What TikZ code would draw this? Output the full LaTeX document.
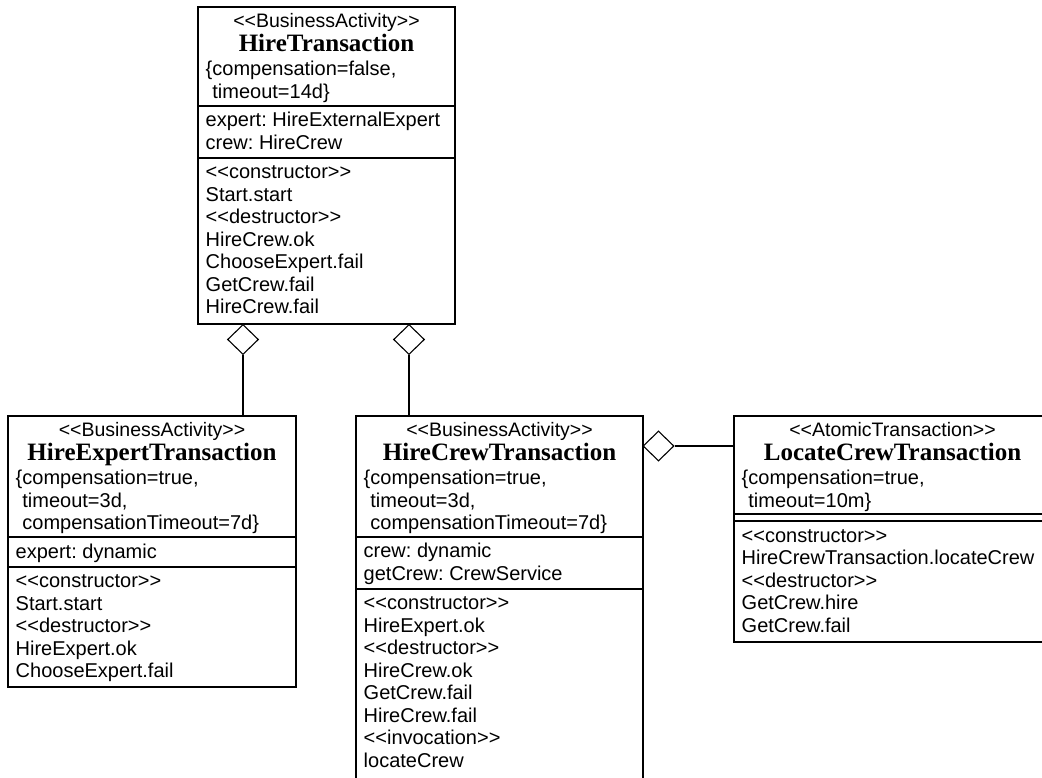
\documentclass[tikz,border=0pt]{standalone}
\usepackage{fontspec}
\setmainfont{Liberation Sans}
\newfontfamily\ttlfont{Liberation Serif}
\usetikzlibrary{shapes.geometric}
\newcommand\stt[1]{<\kern0pt<#1>\kern0pt>}
\frenchspacing
\begin{document}
\begin{tikzpicture}[x=1pt,y=-1pt,
  box/.style={draw, line width=1.1pt, inner sep=0, outer sep=0, anchor=north west},
  sepline/.style={line width=1.1pt},
  txt/.style={inner sep=0, anchor=base west, font=\fontsize{20}{24}\selectfont},
  stereo/.style={inner sep=0, anchor=base, font=\fontsize{19.5}{24}\selectfont},
  ttl/.style={inner sep=0, anchor=base, font=\ttlfont\bfseries\fontsize{25}{30}\selectfont},
  agg/.style={diamond, draw, line width=1.1pt, fill=white, inner sep=0, minimum width=31pt, minimum height=30pt},
  conn/.style={line width=1.1pt}]
\useasboundingbox (0,0) rectangle (1042,777);
\fill[white] (0,0) rectangle (1042,777);
\begin{scope}
\clip (0,0) rectangle (1042,777);
% ---------- HireTransaction ----------
\node[box, minimum width=257pt, minimum height=317pt] (ht) at (198,7) {};
\draw[sepline] (198,106) -- (455,106);
\draw[sepline] (198,158) -- (455,158);
\node[stereo] (hts) at (326.5,27.5) {\stt{BusinessActivity}};
\node[ttl] (htt) at (326.5,51.5) {HireTransaction};
\node[txt] (hth1) at (205.5,75.5) {\{compensation=false,};
\node[txt] (hth2) at (205.5,98) {\phantom{\{}timeout=14d\}};
\node[txt] (hta1) at (205.5,126.5) {expert: HireExternalExpert};
\node[txt] (hta2) at (205.5,149) {crew: HireCrew};
\foreach \t [count=\i] in {{\stt{constructor}},{Start.start},{\stt{destructor}},{HireCrew.ok},{ChooseExpert.fail},{GetCrew.fail},{HireCrew.fail}}
  \node[txt] (htm\i) at (205.5,{178.5+22.5*(\i-1)}) {\t};
% ---------- HireExpertTransaction ----------
\node[box, minimum width=288pt, minimum height=271pt] (het) at (8,416) {};
\draw[sepline] (8,537) -- (296,537);
\draw[sepline] (8,567) -- (296,567);
\node[stereo] (hets) at (152,436.5) {\stt{BusinessActivity}};
\node[ttl] (hett) at (152,460.5) {HireExpertTransaction};
\node[txt] (heth1) at (15.5,484.5) {\{compensation=true,};
\node[txt] (heth2) at (15.5,507) {\phantom{\{}timeout=3d,};
\node[txt] (heth3) at (15.5,529.5) {\phantom{\{}compensationTimeout=7d\}};
\node[txt] (heta1) at (15.5,558) {expert: dynamic};
\foreach \t [count=\i] in {{\stt{constructor}},{Start.start},{\stt{destructor}},{HireExpert.ok},{ChooseExpert.fail}}
  \node[txt] (hetm\i) at (15.5,{587.5+22.5*(\i-1)}) {\t};
% ---------- HireCrewTransaction ----------
\node[box, minimum width=287pt, minimum height=400pt] (hct) at (356,416) {};
\draw[sepline] (356,537) -- (643,537);
\draw[sepline] (356,589) -- (643,589);
\node[stereo] (hcts) at (499.5,436.5) {\stt{BusinessActivity}};
\node[ttl] (hctt) at (499.5,460.5) {HireCrewTransaction};
\node[txt] (hcth1) at (363.5,484.5) {\{compensation=true,};
\node[txt] (hcth2) at (363.5,507) {\phantom{\{}timeout=3d,};
\node[txt] (hcth3) at (363.5,529.5) {\phantom{\{}compensationTimeout=7d\}};
\node[txt] (hcta1) at (363.5,557.5) {crew: dynamic};
\node[txt] (hcta2) at (363.5,580) {getCrew: CrewService};
\foreach \t [count=\i] in {{\stt{constructor}},{HireExpert.ok},{\stt{destructor}},{HireCrew.ok},{GetCrew.fail},{HireCrew.fail},{\stt{invocation}},{locateCrew}}
  \node[txt] (hctm\i) at (363.5,{609.5+22.5*(\i-1)}) {\t};
% ---------- LocateCrewTransaction ----------
\node[box, minimum width=317pt, minimum height=226pt] (lct) at (734,416) {};
\draw[sepline] (734,514) -- (1051,514);
\draw[sepline] (734,521) -- (1051,521);
\node[stereo] (lcts) at (892.5,436.5) {\stt{AtomicTransaction}};
\node[ttl] (lctt) at (892.5,460.5) {LocateCrewTransaction};
\node[txt] (lcth1) at (741.5,484.5) {\{compensation=true,};
\node[txt] (lcth2) at (741.5,507) {\phantom{\{}timeout=10m\}};
\foreach \t [count=\i] in {{\stt{constructor}},{HireCrewTransaction.locateCrew},{\stt{destructor}},{GetCrew.hire},{GetCrew.fail}}
  \node[txt] (lctm\i) at (741.5,{542+22.5*(\i-1)}) {\t};
% ---------- aggregations ----------
\node[agg] (d1) at (243,339.5) {};
\node[agg] (d2) at (409,339.5) {};
\node[agg] (d3) at (658.5,446) {};
\draw[conn] (d1.south) -- (het.north -| d1.south);
\draw[conn] (d2.south) -- (hct.north -| d2.south);
\draw[conn] (d3.east) -- (d3.east -| lct.west);
\end{scope}
\end{tikzpicture}
\end{document}
